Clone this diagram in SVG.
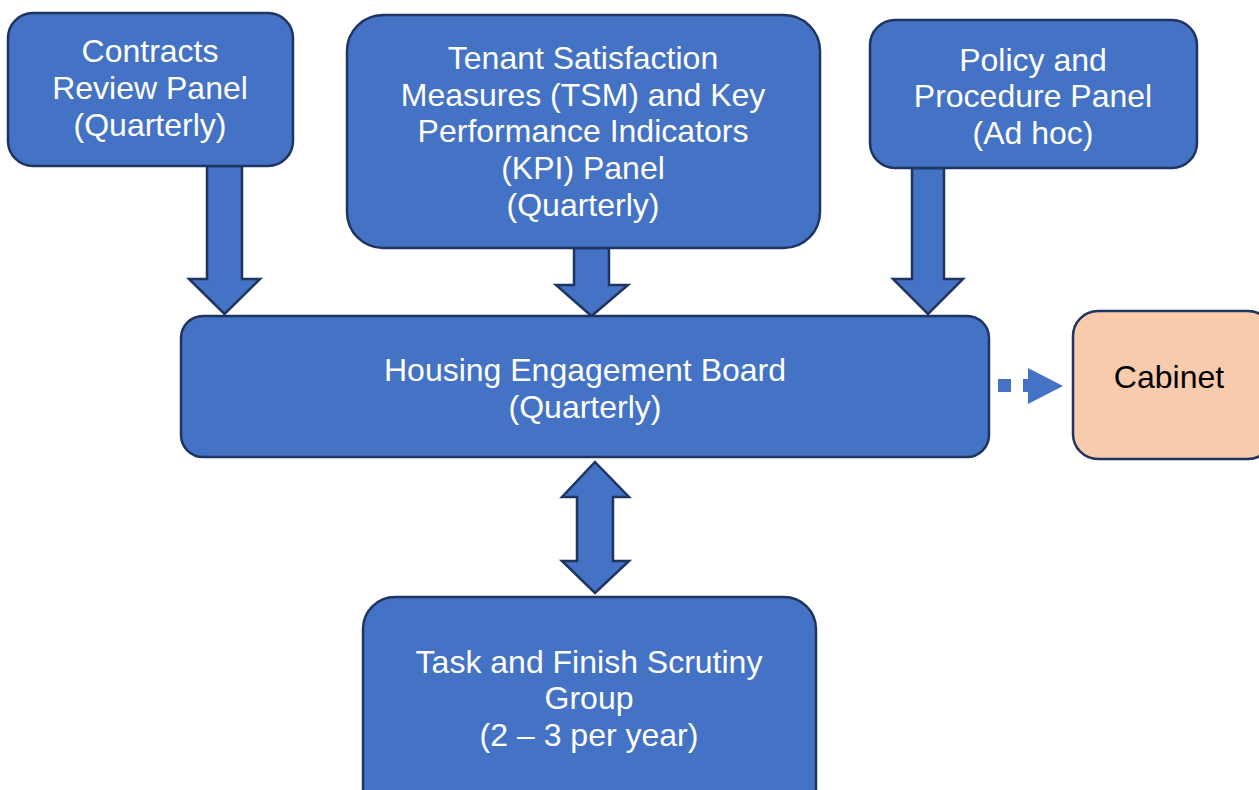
<svg xmlns="http://www.w3.org/2000/svg" width="1259" height="790" viewBox="0 0 1259 790">
<style>
.box{fill:#4472C4;stroke:#1F3560;stroke-width:2.5}
.cab{fill:#F8CBAD;stroke:#1F3560;stroke-width:2.5}
.arr{fill:#4472C4;stroke:#1F3560;stroke-width:2.5;stroke-linejoin:miter}
text{font-family:"Liberation Sans",Arial,sans-serif;font-size:32px;text-anchor:middle}
.w{fill:#FFFFFF}
.k{fill:#000000}
</style>
<rect width="1259" height="790" fill="#FFFFFF"/>
<g id="connectors">
<path class="arr" d="M207,166 L242,166 L242,279 L260,279 L224.5,314 L189,279 L207,279 Z"/>
<path class="arr" d="M574,248 L609,248 L609,285 L628,285 L591.5,316 L556,285 L574,285 Z"/>
<path class="arr" d="M912,168 L944,168 L944,279 L963,279 L928,314 L893,279 L912,279 Z"/>
<path class="arr" d="M595,462 L629,497 L613,497 L613,561 L629,561 L595,593 L562,561 L577,561 L577,497 L562,497 Z"/>
<line x1="998" y1="385.5" x2="1030" y2="385.5" stroke="#4472C4" stroke-width="13" stroke-dasharray="13,12"/>
<path d="M1028,368 L1063,386 L1028,404 Z" fill="#4472C4"/>
</g>
<g id="contracts">
<rect class="box" x="8" y="13" width="285" height="153" rx="25"/>
<text class="w" x="150" y="62">Contracts</text>
<text class="w" x="150" y="99">Review Panel</text>
<text class="w" x="150" y="136">(Quarterly)</text>
</g>
<g id="tsm">
<rect class="box" x="347" y="15" width="473" height="233" rx="36"/>
<text class="w" x="583" y="69">Tenant Satisfaction</text>
<text class="w" x="583" y="106">Measures (TSM) and Key</text>
<text class="w" x="583" y="142">Performance Indicators</text>
<text class="w" x="583" y="179">(KPI) Panel</text>
<text class="w" x="583" y="216">(Quarterly)</text>
</g>
<g id="policy">
<rect class="box" x="870" y="20" width="327" height="148" rx="25"/>
<text class="w" x="1033" y="71">Policy and</text>
<text class="w" x="1033" y="107">Procedure Panel</text>
<text class="w" x="1033" y="144">(Ad hoc)</text>
</g>
<g id="heb">
<rect class="box" x="181" y="316" width="808" height="141" rx="22"/>
<text class="w" x="585" y="381">Housing Engagement Board</text>
<text class="w" x="585" y="418">(Quarterly)</text>
</g>
<g id="cabinet">
<rect class="cab" x="1073" y="311" width="200" height="148" rx="25"/>
<text class="k" x="1169" y="388">Cabinet</text>
</g>
<g id="taskfinish">
<rect class="box" x="363" y="597" width="453" height="230" rx="32"/>
<text class="w" x="589" y="673">Task and Finish Scrutiny</text>
<text class="w" x="589" y="709">Group</text>
<text class="w" x="589" y="746">(2 – 3 per year)</text>
</g>
</svg>
